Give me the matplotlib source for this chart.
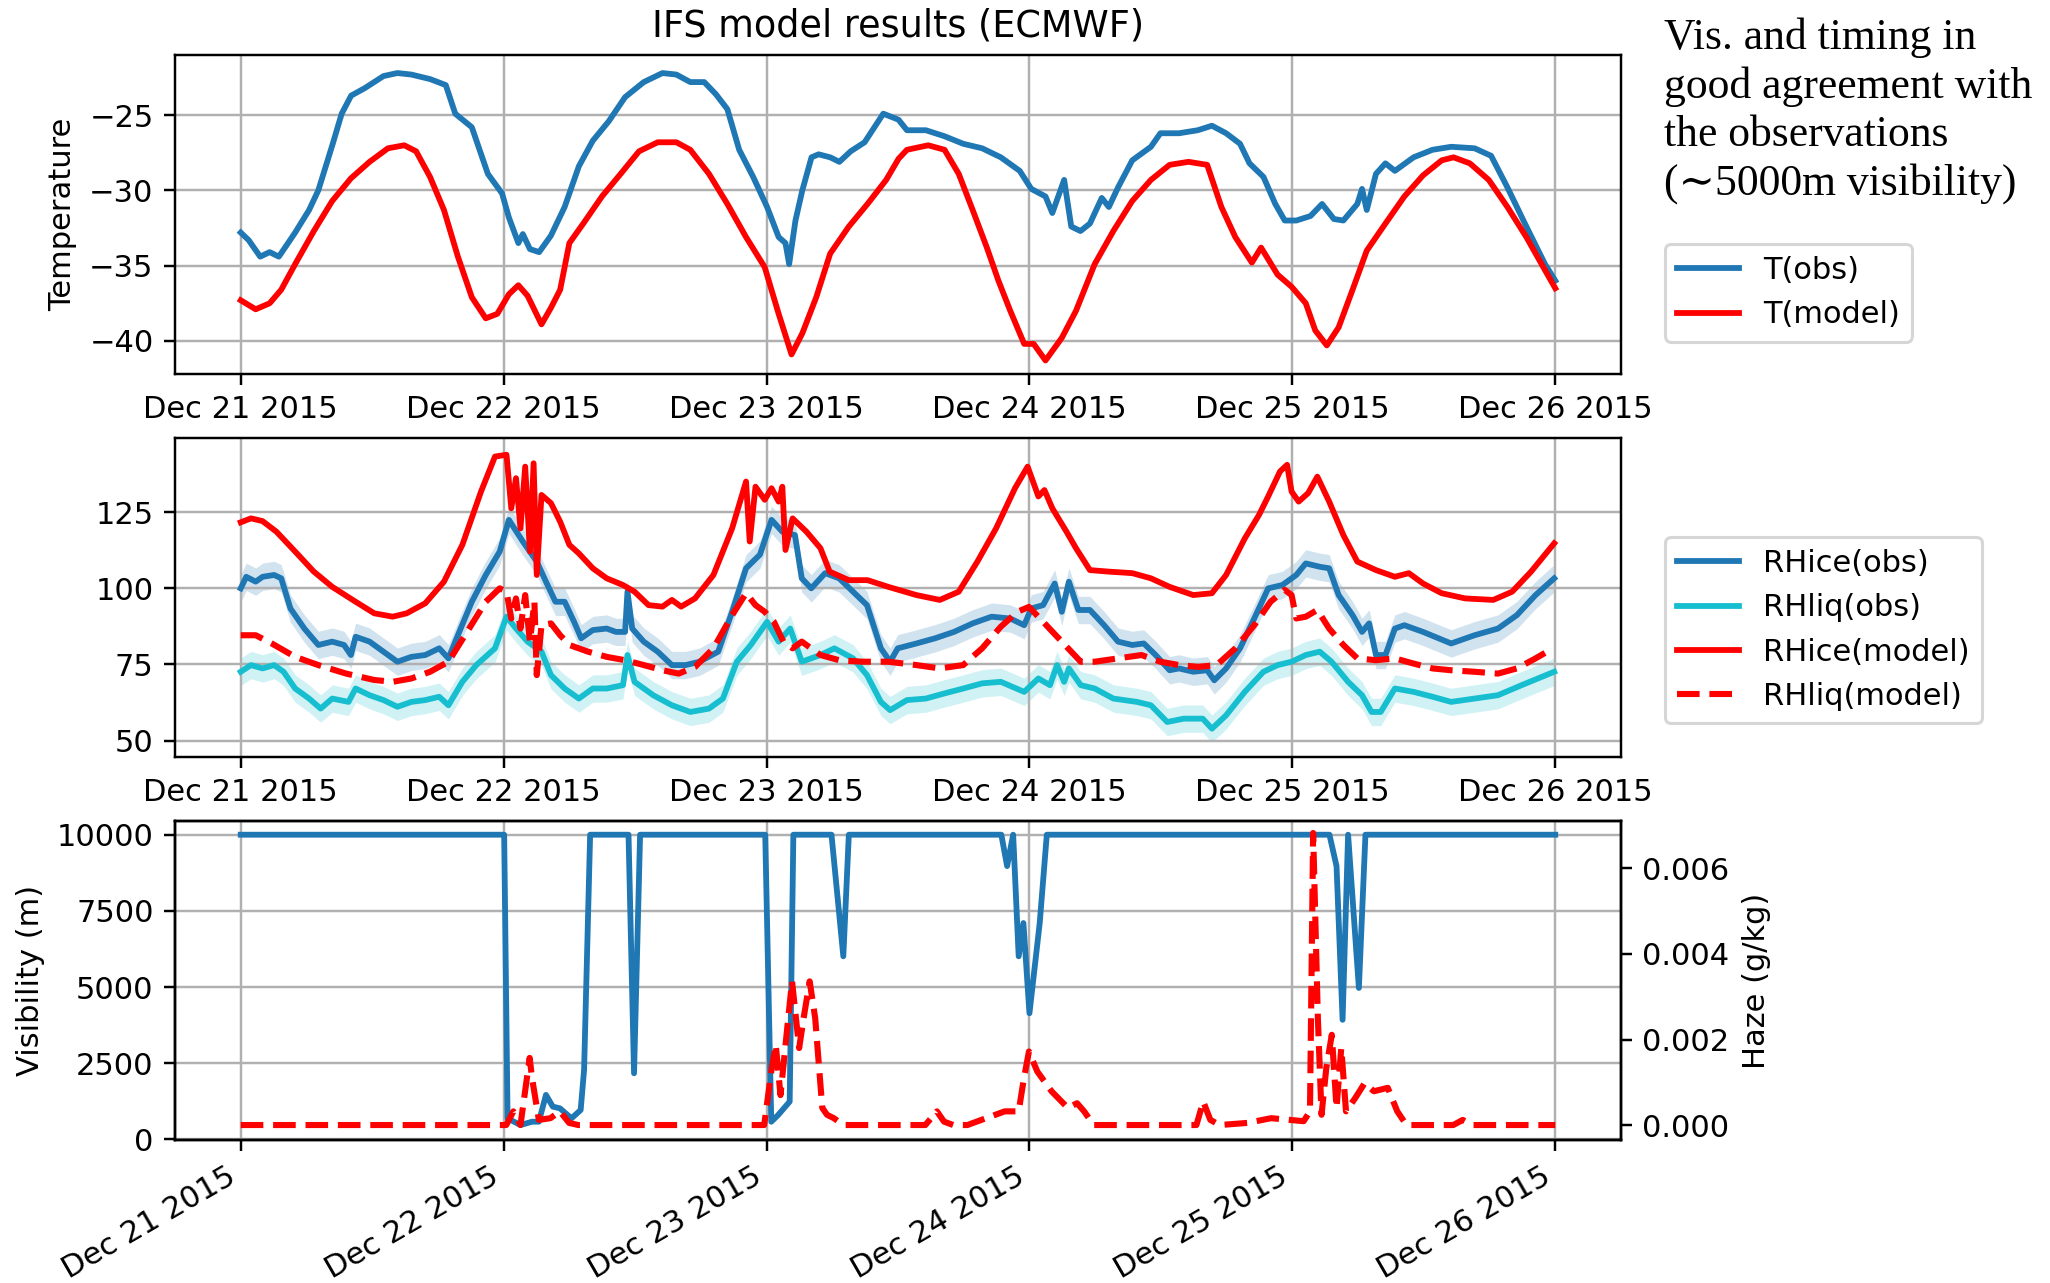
import numpy as np
import pandas as pd
import matplotlib
matplotlib.use("Agg")
import matplotlib.pyplot as plt
import matplotlib.dates as mdates

START = pd.Timestamp("2015-12-21 00:00")

# ---------------- Temperature panel ----------------
T_OBS_DAY = [0.000, 0.030, 0.074, 0.110, 0.145, 0.180, 0.207, 0.260, 0.295, 0.350,
             0.384, 0.420, 0.472, 0.543, 0.596, 0.649, 0.720, 0.780, 0.816, 0.879,
             0.940, 0.994, 1.020, 1.056, 1.073, 1.100, 1.135, 1.180, 1.232, 1.286,
             1.339, 1.400, 1.462, 1.533, 1.604, 1.657, 1.710, 1.763, 1.807, 1.851,
             1.896, 1.949, 2.002, 2.046, 2.072, 2.086, 2.110, 2.136, 2.171, 2.198,
             2.242, 2.277, 2.320, 2.373, 2.444, 2.502, 2.534, 2.606, 2.677, 2.748,
             2.820, 2.891, 2.963, 3.007, 3.061, 3.087, 3.132, 3.159, 3.194, 3.230,
             3.275, 3.302, 3.337, 3.391, 3.462, 3.498, 3.569, 3.640, 3.694, 3.748,
             3.801, 3.837, 3.890, 3.935, 3.971, 4.015, 4.069, 4.113, 4.158, 4.194,
             4.247, 4.265, 4.283, 4.318, 4.354, 4.390, 4.461, 4.533, 4.604, 4.693,
             4.756, 4.818, 4.890, 4.961, 5.000]
T_OBS = [-32.8, -33.3, -34.4, -34.1, -34.4, -33.5, -32.8, -31.3, -30.0, -26.9,
         -24.9, -23.7, -23.2, -22.4, -22.2, -22.3, -22.6, -23.0, -24.9, -25.8,
         -28.9, -30.2, -31.8, -33.5, -32.9, -33.9, -34.1, -33.0, -31.1, -28.4,
         -26.7, -25.4, -23.8, -22.8, -22.2, -22.3, -22.8, -22.8, -23.6, -24.6,
         -27.3, -29.1, -31.1, -33.1, -33.5, -34.9, -32.0, -30.0, -27.8, -27.6,
         -27.8, -28.1, -27.4, -26.8, -24.9, -25.3, -26.0, -26.0, -26.4, -26.9,
         -27.2, -27.8, -28.7, -29.9, -30.4, -31.5, -29.3, -32.4, -32.7, -32.2,
         -30.5, -31.1, -29.8, -28.0, -27.1, -26.2, -26.2, -26.0, -25.7, -26.2,
         -26.9, -28.2, -29.1, -30.9, -32.0, -32.0, -31.7, -30.9, -31.9, -32.0,
         -30.9, -29.9, -31.3, -28.9, -28.2, -28.7, -27.8, -27.3, -27.1, -27.2,
         -27.7, -29.8, -32.4, -34.9, -36.0]

T_MOD_DAY = [0.000, 0.057, 0.110, 0.154, 0.207, 0.278, 0.348, 0.419, 0.490, 0.560,
             0.622, 0.667, 0.720, 0.773, 0.826, 0.879, 0.932, 0.976, 1.020, 1.056,
             1.091, 1.144, 1.180, 1.215, 1.250, 1.303, 1.374, 1.445, 1.515, 1.586,
             1.657, 1.710, 1.781, 1.851, 1.922, 1.993, 2.046, 2.095, 2.136, 2.189,
             2.242, 2.313, 2.384, 2.455, 2.502, 2.534, 2.615, 2.677, 2.731, 2.784,
             2.838, 2.882, 2.927, 2.980, 3.016, 3.061, 3.123, 3.177, 3.248, 3.319,
             3.391, 3.462, 3.533, 3.605, 3.676, 3.730, 3.783, 3.846, 3.881, 3.944,
             3.997, 4.051, 4.087, 4.131, 4.176, 4.229, 4.283, 4.354, 4.426, 4.497,
             4.568, 4.613, 4.675, 4.747, 4.818, 4.890, 4.961, 5.000]
T_MOD = [-37.3, -37.9, -37.5, -36.6, -34.9, -32.7, -30.7, -29.2, -28.1, -27.2,
         -27.0, -27.4, -29.1, -31.3, -34.4, -37.1, -38.5, -38.2, -36.9, -36.3,
         -37.0, -38.9, -37.8, -36.6, -33.5, -32.2, -30.4, -28.9, -27.4, -26.8,
         -26.8, -27.3, -28.9, -30.9, -33.1, -35.1, -38.2, -40.9, -39.5, -37.1,
         -34.2, -32.4, -30.9, -29.3, -27.9, -27.3, -27.0, -27.3, -28.9, -31.3,
         -33.8, -36.0, -38.0, -40.2, -40.2, -41.3, -39.8, -38.0, -34.9, -32.7,
         -30.7, -29.3, -28.3, -28.1, -28.3, -31.1, -33.1, -34.8, -33.8, -35.6,
         -36.4, -37.5, -39.3, -40.3, -39.1, -36.6, -34.0, -32.2, -30.4, -29.0,
         -28.0, -27.8, -28.2, -29.3, -31.1, -33.1, -35.3, -36.5]

# ---------------- Relative humidity panel ----------------
RHICE_MOD_DAY = [0.000, 0.039, 0.083, 0.136, 0.207, 0.278, 0.348, 0.437, 0.508, 0.578,
                 0.631, 0.702, 0.773, 0.843, 0.914, 0.967, 1.011, 1.029, 1.047, 1.064,
                 1.082, 1.100, 1.114, 1.126, 1.144, 1.180, 1.215, 1.250, 1.286, 1.339,
                 1.392, 1.454, 1.498, 1.551, 1.604, 1.640, 1.675, 1.728, 1.798, 1.869,
                 1.922, 1.936, 1.958, 1.993, 2.019, 2.046, 2.060, 2.072, 2.099, 2.152,
                 2.205, 2.240, 2.313, 2.384, 2.463, 2.570, 2.659, 2.731, 2.802, 2.873,
                 2.945, 2.993, 3.034, 3.057, 3.087, 3.141, 3.177, 3.230, 3.302, 3.391,
                 3.462, 3.533, 3.623, 3.694, 3.748, 3.819, 3.873, 3.908, 3.953, 3.980,
                 3.997, 4.024, 4.060, 4.095, 4.140, 4.194, 4.247, 4.318, 4.390, 4.443,
                 4.497, 4.568, 4.657, 4.764, 4.836, 4.908, 4.996]
RHICE_MOD = [121.7, 123.0, 122.1, 118.6, 112.1, 105.5, 100.5, 95.6, 91.8, 90.7,
             91.8, 95.1, 102.2, 114.3, 131.8, 143.3, 143.9, 126.3, 136.2, 119.7,
             140.0, 112.1, 141.1, 104.4, 130.7, 128.0, 121.9, 114.3, 111.5, 106.6,
             103.3, 101.1, 98.9, 94.5, 94.0, 96.2, 94.0, 96.7, 104.4, 119.7,
             135.1, 115.4, 133.4, 129.1, 132.9, 128.5, 133.4, 112.6, 123.0, 118.6,
             113.2, 105.5, 102.7, 102.7, 100.5, 97.8, 96.2, 98.9, 108.8, 119.7,
             132.9, 140.0, 130.2, 132.3, 126.3, 118.6, 113.2, 106.0, 105.5, 105.0,
             103.3, 100.5, 97.8, 98.4, 104.4, 116.4, 124.1, 130.2, 138.4, 140.6,
             131.8, 128.5, 131.3, 136.7, 128.5, 117.5, 108.8, 106.0, 103.8, 105.0,
             101.6, 98.4, 96.7, 96.2, 98.9, 105.5, 114.8]

RHICE_OBS_DAY = [0.000, 0.021, 0.057, 0.083, 0.127, 0.154, 0.189, 0.242, 0.295, 0.348,
                 0.393, 0.419, 0.437, 0.490, 0.543, 0.596, 0.649, 0.702, 0.755, 0.790,
                 0.826, 0.879, 0.932, 0.985, 1.020, 1.073, 1.126, 1.161, 1.197, 1.232,
                 1.268, 1.295, 1.339, 1.392, 1.427, 1.462, 1.471, 1.489, 1.533, 1.586,
                 1.640, 1.692, 1.745, 1.816, 1.869, 1.922, 1.975, 2.019, 2.060, 2.108,
                 2.134, 2.170, 2.223, 2.276, 2.329, 2.382, 2.435, 2.470, 2.499, 2.570,
                 2.641, 2.713, 2.784, 2.856, 2.927, 2.980, 3.007, 3.052, 3.096, 3.123,
                 3.150, 3.186, 3.230, 3.284, 3.337, 3.391, 3.435, 3.480, 3.533, 3.569,
                 3.623, 3.676, 3.703, 3.748, 3.801, 3.855, 3.908, 3.962, 4.015, 4.051,
                 4.104, 4.140, 4.176, 4.229, 4.265, 4.292, 4.318, 4.354, 4.390, 4.426,
                 4.497, 4.604, 4.693, 4.782, 4.854, 4.925, 4.996]
RHICE_OBS = [100.0, 103.8, 102.2, 103.8, 104.4, 103.3, 93.4, 86.8, 81.4, 82.5,
             81.4, 78.1, 84.1, 82.5, 79.2, 75.9, 77.5, 78.1, 80.3, 77.0,
             84.6, 95.6, 104.4, 112.1, 122.5, 115.4, 108.8, 102.2, 95.6, 95.6,
             89.0, 83.6, 86.3, 86.8, 85.7, 85.7, 98.9, 86.8, 82.5, 79.2,
             74.8, 74.8, 75.9, 79.2, 92.3, 106.6, 111.1, 122.5, 118.6, 117.5,
             103.3, 100.0, 105.0, 103.3, 98.9, 94.5, 80.3, 75.9, 80.3, 81.9,
             83.6, 85.7, 88.5, 90.7, 90.1, 87.9, 93.4, 94.5, 101.6, 92.3,
             102.2, 92.9, 92.9, 87.9, 82.5, 81.4, 81.9, 78.1, 73.1, 73.7,
             72.6, 73.1, 69.8, 73.7, 80.3, 90.1, 100.0, 101.1, 104.4, 108.2,
             107.1, 106.6, 97.8, 91.2, 85.7, 88.5, 78.1, 78.1, 86.8, 87.9,
             85.7, 81.9, 84.6, 86.8, 91.2, 97.8, 103.3]

RHLIQ_OBS_DAY = [0.000, 0.039, 0.083, 0.127, 0.163, 0.207, 0.260, 0.304, 0.348, 0.410,
                 0.437, 0.490, 0.543, 0.596, 0.649, 0.702, 0.755, 0.790, 0.843, 0.896,
                 0.967, 1.011, 1.047, 1.091, 1.144, 1.180, 1.232, 1.286, 1.339, 1.392,
                 1.454, 1.471, 1.498, 1.569, 1.640, 1.710, 1.781, 1.834, 1.887, 1.940,
                 2.002, 2.046, 2.090, 2.134, 2.205, 2.258, 2.329, 2.382, 2.435, 2.470,
                 2.534, 2.606, 2.677, 2.748, 2.820, 2.891, 2.980, 3.034, 3.078, 3.105,
                 3.132, 3.150, 3.195, 3.248, 3.319, 3.409, 3.462, 3.524, 3.587, 3.659,
                 3.694, 3.748, 3.819, 3.890, 3.944, 3.997, 4.051, 4.104, 4.149, 4.212,
                 4.265, 4.301, 4.336, 4.390, 4.461, 4.533, 4.604, 4.693, 4.782, 4.872,
                 4.996]
RHLIQ_OBS = [72.6, 74.8, 73.7, 74.8, 72.6, 67.1, 63.8, 60.5, 63.8, 62.7,
             67.1, 64.9, 63.3, 61.1, 62.7, 63.3, 64.4, 61.6, 69.3, 74.8,
             80.3, 90.7, 86.8, 82.5, 79.2, 71.5, 67.1, 63.8, 67.1, 67.1,
             68.2, 78.1, 69.3, 64.9, 61.6, 59.4, 60.5, 63.8, 75.9, 81.4,
             89.0, 82.5, 86.8, 75.9, 78.1, 80.3, 77.0, 71.5, 62.7, 60.0,
             63.3, 63.8, 65.5, 67.1, 68.8, 69.3, 66.0, 70.4, 68.2, 74.8,
             69.3, 73.7, 68.2, 67.1, 63.8, 62.7, 61.6, 56.1, 57.2, 57.2,
             53.9, 58.3, 66.0, 72.6, 74.8, 75.9, 78.1, 79.2, 75.9, 69.3,
             64.9, 59.4, 59.4, 67.1, 66.0, 64.4, 62.7, 63.8, 64.9, 68.2,
             72.6]

RHLIQ_MOD_DAY = [0.000, 0.057, 0.118, 0.207, 0.295, 0.401, 0.508, 0.578, 0.649, 0.720,
                 0.790, 0.861, 0.932, 0.985, 1.011, 1.029, 1.047, 1.064, 1.082, 1.100,
                 1.117, 1.126, 1.144, 1.180, 1.215, 1.250, 1.321, 1.392, 1.462, 1.533,
                 1.604, 1.666, 1.728, 1.798, 1.869, 1.922, 1.958, 1.993, 2.028, 2.064,
                 2.099, 2.134, 2.205, 2.276, 2.364, 2.463, 2.570, 2.659, 2.748, 2.820,
                 2.891, 2.954, 2.998, 3.052, 3.123, 3.195, 3.248, 3.337, 3.426, 3.498,
                 3.569, 3.641, 3.712, 3.783, 3.855, 3.917, 3.971, 3.997, 4.015, 4.051,
                 4.095, 4.140, 4.194, 4.247, 4.318, 4.390, 4.461, 4.533, 4.604, 4.693,
                 4.782, 4.854, 4.925, 4.979]
RHLIQ_MOD = [84.6, 84.6, 81.9, 77.5, 74.8, 72.0, 69.9, 69.3, 70.4, 72.6,
             75.9, 85.7, 95.6, 100.0, 98.9, 90.1, 96.7, 86.8, 97.8, 82.5,
             95.6, 71.5, 87.9, 88.5, 84.6, 81.4, 79.2, 77.5, 76.4, 74.8,
             73.1, 72.0, 74.2, 80.3, 91.2, 98.4, 94.5, 92.3, 89.0, 82.5,
             80.3, 82.5, 78.1, 76.4, 75.9, 75.9, 74.8, 73.7, 74.8, 80.3,
             87.4, 92.3, 93.9, 89.0, 82.5, 75.9, 75.9, 77.0, 78.1, 75.9,
             74.8, 74.2, 74.8, 80.3, 87.9, 95.6, 99.5, 97.8, 90.1, 90.7,
             92.9, 86.8, 81.4, 77.0, 76.4, 77.0, 75.3, 73.7, 73.1, 72.6,
             72.0, 73.7, 77.0, 79.7]

RH_OBS_UNCERTAINTY = 4.5   # half-width of the shaded band around the observations

# ---------------- Visibility / haze panel ----------------
VIS_DAY = [0.000, 1.002, 1.015, 1.064, 1.108, 1.134, 1.161, 1.187, 1.214, 1.258,
           1.293, 1.306, 1.329, 1.475, 1.496, 1.519, 1.995, 2.018, 2.044, 2.088,
           2.102, 2.247, 2.292, 2.313, 2.893, 2.915, 2.938, 2.959, 2.977, 3.000,
           3.039, 3.066, 4.141, 4.168, 4.191, 4.212, 4.253, 4.278, 5.000]
VIS = [10000, 10000, 690, 470, 580, 580, 1460, 1075, 1020, 690,
       965, 2280, 10000, 10000, 2170, 10000, 10000, 580, 800, 1240,
       10000, 10000, 6010, 10000, 10000, 8970, 10000, 6010, 7100, 4140,
       7100, 10000, 10000, 8970, 3925, 10000, 4970, 10000, 10000]

HAZE_DAY = [0.000, 1.010, 1.037, 1.064, 1.099, 1.108, 1.134, 1.178, 1.214, 1.249,
            1.284, 1.991, 2.018, 2.035, 2.053, 2.080, 2.097, 2.124, 2.141, 2.164,
            2.185, 2.212, 2.230, 2.256, 2.292, 2.604, 2.648, 2.675, 2.710, 2.764,
            2.835, 2.906, 2.959, 2.977, 2.998, 3.030, 3.084, 3.146, 3.181, 3.208,
            3.244, 3.635, 3.661, 3.688, 3.724, 3.830, 3.919, 3.990, 4.043, 4.067,
            4.079, 4.097, 4.111, 4.129, 4.150, 4.168, 4.186, 4.204, 4.239, 4.275,
            4.310, 4.363, 4.399, 4.434, 4.612, 4.648, 4.684, 5.000]
HAZE = [0.0, 0.0, 0.00032, 0.0, 0.00157, 0.0011, 0.00012, 0.00016, 0.00032, 0.00005,
        0.0, 0.0, 0.00125, 0.00188, 0.0007, 0.00235, 0.00336, 0.0018, 0.0025, 0.00336,
        0.0025, 0.0004, 0.00024, 0.00016, 0.0, 0.0, 0.00032, 0.00008, 0.0, 0.0,
        0.00016, 0.00032, 0.00032, 0.00102, 0.00172, 0.00125, 0.00079, 0.0004, 0.00051, 0.00032,
        0.0, 0.0, 0.00055, 0.00012, 0.0, 0.00005, 0.00016, 0.00012, 0.00009, 0.00032,
        0.00683, 0.0025, 0.00024, 0.00133, 0.00211, 0.0004, 0.0018, 0.00032, 0.00063, 0.00098,
        0.00079, 0.00087, 0.00032, 0.0, 0.0, 0.00012, 0.0, 0.0]

NOTE_TEXT = "Vis. and timing in\ngood agreement with\nthe observations\n(\u223c5000m visibility)"


def to_time(days):
    return (START + pd.to_timedelta(np.asarray(days, dtype=float), unit="D")).to_pydatetime()


W, H, DPI = 2050, 1283, 220
fig = plt.figure(figsize=(W / DPI, H / DPI), dpi=DPI)

left = 175 / W
width = 1446 / W
height = 319 / H
ax1 = fig.add_axes([left, 1 - 374 / H, width, height])
ax2 = fig.add_axes([left, 1 - 757 / H, width, height])
ax3 = fig.add_axes([left, 1 - 1140 / H, width, height])

blue = "#1f77b4"
cyan = "#17becf"
red = "red"
LW = 1.9

xlim = (START - pd.Timedelta(hours=6), START + pd.Timedelta(days=5, hours=6))

# Top: temperature
ax1.plot(to_time(T_OBS_DAY), T_OBS, color=blue, lw=LW, label="T(obs)")
ax1.plot(to_time(T_MOD_DAY), T_MOD, color=red, lw=LW, label="T(model)")
ax1.set_ylim(-42.2, -21.0)
ax1.set_yticks([-40, -35, -30, -25])
ax1.set_ylabel("Temperature")
ax1.set_title("IFS model results (ECMWF)", fontsize=12)
ax1.legend(loc="center left", bbox_to_anchor=(1.02, 0.255))

# Middle: relative humidity
t_ice = to_time(RHICE_OBS_DAY)
t_liq = to_time(RHLIQ_OBS_DAY)
ice = np.asarray(RHICE_OBS)
liq = np.asarray(RHLIQ_OBS)
ax2.fill_between(t_ice, ice - RH_OBS_UNCERTAINTY, ice + RH_OBS_UNCERTAINTY,
                 color=blue, alpha=0.2, lw=0)
ax2.fill_between(t_liq, liq - RH_OBS_UNCERTAINTY, liq + RH_OBS_UNCERTAINTY,
                 color=cyan, alpha=0.2, lw=0)
ax2.plot(t_ice, ice, color=blue, lw=LW, label="RHice(obs)")
ax2.plot(t_liq, liq, color=cyan, lw=LW, label="RHliq(obs)")
ax2.plot(to_time(RHICE_MOD_DAY), RHICE_MOD, color=red, lw=LW, label="RHice(model)")
ax2.plot(to_time(RHLIQ_MOD_DAY), RHLIQ_MOD, color=red, lw=2.0, ls="--", label="RHliq(model)")
ax2.set_ylim(44.6, 149.4)
ax2.set_yticks([50, 75, 100, 125])
ax2.legend(loc="center left", bbox_to_anchor=(1.02, 0.398))

# Bottom: visibility and haze
ax3.plot(to_time(VIS_DAY), VIS, color=blue, lw=LW)
ax3.set_ylim(-20, 10450)
ax3.set_yticks([0, 2500, 5000, 7500, 10000])
ax3.set_ylabel("Visibility (m)")
ax3b = ax3.twinx()
ax3b.plot(to_time(HAZE_DAY), HAZE, color=red, lw=2.0, ls="--")
ax3b.set_ylim(-0.00035, 0.00711)
ax3b.set_yticks([0.0, 0.002, 0.004, 0.006])
ax3b.set_ylabel("Haze (g/kg)")
ax3b.grid(False)

for ax in (ax1, ax2, ax3):
    ax.set_xlim(*xlim)
    ax.xaxis.set_major_locator(mdates.DayLocator())
    ax.xaxis.set_major_formatter(mdates.DateFormatter("%b %d %Y"))
    ax.grid(True, color="#b0b0b0", lw=0.8)
ax3b.set_xlim(*xlim)

for lbl in ax3.get_xticklabels():
    lbl.set_rotation(30)
    lbl.set_ha("right")

fig.text(1664 / W, 1 - 17 / H, NOTE_TEXT, family=["Liberation Serif", "DejaVu Serif"],
         fontsize=14.3, va="top", ha="left", linespacing=1.27)

fig.savefig("out.png", dpi=DPI)
